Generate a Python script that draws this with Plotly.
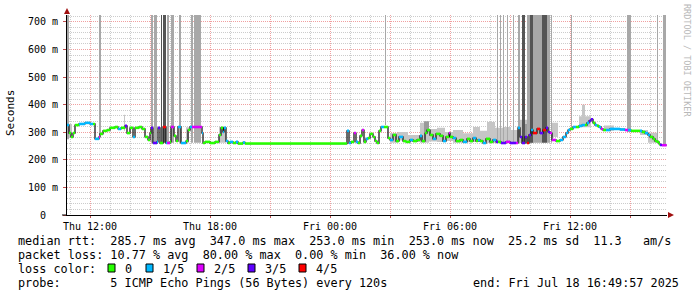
import plotly.graph_objects as go
from datetime import datetime

YEAR = "2025-"
END_TIME = "2025-07-18 16:49:57"
RANGE_START = "2025-07-17 10:51"
RANGE_END = "2025-07-18 16:51"

# ---- median RTT (ms), step points, and lost pings (out of 5) ----
med_time = [
    "07-17 10:51", "07-17 10:57", "07-17 11:03", "07-17 11:09", "07-17 11:15", "07-17 11:27",
    "07-17 11:45", "07-17 12:00", "07-17 12:09", "07-17 12:15", "07-17 12:27", "07-17 12:30",
    "07-17 12:39", "07-17 12:51", "07-17 13:00", "07-17 13:15", "07-17 13:24", "07-17 13:33",
    "07-17 13:45", "07-17 13:51", "07-17 14:00", "07-17 14:09", "07-17 14:15", "07-17 14:27",
    "07-17 14:36", "07-17 14:45", "07-17 14:54", "07-17 15:00", "07-17 15:03", "07-17 15:09",
    "07-17 15:21", "07-17 15:24", "07-17 15:30", "07-17 15:39", "07-17 15:48", "07-17 15:51",
    "07-17 16:00", "07-17 16:03", "07-17 16:12", "07-17 16:18", "07-17 16:24", "07-17 16:33",
    "07-17 16:48", "07-17 16:54", "07-17 17:00", "07-17 17:06", "07-17 17:36", "07-17 17:39",
    "07-17 17:45", "07-17 18:00", "07-17 18:15", "07-17 18:27", "07-17 18:33", "07-17 18:39",
    "07-17 18:42", "07-17 18:48", "07-17 18:54", "07-17 19:00", "07-17 19:09", "07-17 19:18",
    "07-17 19:24", "07-17 19:39", "07-17 19:45",
    "07-18 00:51", "07-18 00:57", "07-18 01:03", "07-18 01:12", "07-18 01:18", "07-18 01:24",
    "07-18 01:30", "07-18 01:36", "07-18 01:42", "07-18 01:48", "07-18 01:54", "07-18 02:00",
    "07-18 02:09", "07-18 02:15", "07-18 02:21", "07-18 02:27", "07-18 02:33", "07-18 02:42",
    "07-18 02:54", "07-18 03:00", "07-18 03:09", "07-18 03:18", "07-18 03:27", "07-18 03:39",
    "07-18 03:48", "07-18 04:00", "07-18 04:09", "07-18 04:21", "07-18 04:30", "07-18 04:36",
    "07-18 04:45", "07-18 04:51", "07-18 05:00", "07-18 05:09", "07-18 05:18", "07-18 05:30",
    "07-18 05:39", "07-18 05:48", "07-18 05:57", "07-18 06:00", "07-18 06:09", "07-18 06:18",
    "07-18 06:30", "07-18 06:39", "07-18 06:51", "07-18 07:00", "07-18 07:09", "07-18 07:18",
    "07-18 07:24", "07-18 07:30", "07-18 07:39", "07-18 07:48", "07-18 08:00", "07-18 08:09",
    "07-18 08:18", "07-18 08:24", "07-18 08:33", "07-18 08:48", "07-18 09:00", "07-18 09:18",
    "07-18 09:24", "07-18 09:30", "07-18 09:36", "07-18 09:45", "07-18 09:51", "07-18 09:57",
    "07-18 10:03", "07-18 10:09", "07-18 10:21", "07-18 10:30", "07-18 10:39", "07-18 10:48",
    "07-18 10:54", "07-18 11:00", "07-18 11:06", "07-18 11:18", "07-18 11:30", "07-18 11:39",
    "07-18 11:48", "07-18 11:54", "07-18 12:00", "07-18 12:09", "07-18 12:18", "07-18 12:27",
    "07-18 12:36", "07-18 12:45", "07-18 12:51", "07-18 12:57", "07-18 13:03", "07-18 13:09",
    "07-18 13:15", "07-18 13:21", "07-18 13:27", "07-18 13:33", "07-18 13:39", "07-18 13:48",
    "07-18 14:00", "07-18 14:15", "07-18 14:30", "07-18 14:45", "07-18 14:54", "07-18 15:03",
    "07-18 15:18", "07-18 15:30", "07-18 15:36", "07-18 15:45", "07-18 15:54", "07-18 16:00",
    "07-18 16:09", "07-18 16:15", "07-18 16:21", "07-18 16:27", "07-18 16:30", "07-18 16:36",
]
med_ms = [
    326, 297, 283, 297, 326, 330,
    334, 330, 330, 276, 283, 294,
    305, 308, 316, 319, 312, 316,
    323, 297, 316, 283, 316, 319,
    312, 283, 272, 297, 316, 261,
    265, 316, 261, 319, 261, 261,
    265, 319, 287, 268, 319, 261,
    268, 308, 319, 319, 297, 261,
    265, 261, 265, 290, 316, 301,
    316, 268, 261, 265, 261, 265,
    259, 263, 259,
    305, 261, 265, 297, 265, 261,
    287, 308, 265, 276, 279, 294,
    283, 268, 261, 305, 319, 319,
    279, 272, 290, 268, 283, 268,
    265, 272, 268, 272, 287, 268,
    297, 308, 290, 276, 294, 287,
    268, 283, 297, 283, 279, 268,
    272, 265, 276, 268, 279, 268,
    272, 268, 261, 276, 265, 272,
    265, 265, 261, 265, 261, 261,
    316, 283, 261, 283, 261, 290,
    308, 297, 312, 297, 308, 316,
    301, 297, 272, 268, 272, 283,
    297, 308, 312, 319, 319, 323,
    326, 326, 334, 341, 347, 334,
    326, 323, 319, 312, 308, 308,
    312, 312, 310, 308, 308, 305,
    305, 305, 301, 297, 290, 283,
    276, 268, 265, 258, 254, 253,
]
med_loss = [
    1, 0, 0, 0, 0, 1,
    1, 1, 0, 1, 2, 0,
    0, 0, 0, 0, 1, 0,
    3, 0, 0, 1, 0, 0,
    0, 0, 0, 0, 3, 3,
    1, 3, 0, 4, 1, 2,
    0, 2, 0, 0, 1, 1,
    0, 0, 1, 2, 1, 0,
    0, 0, 0, 0, 0, 1,
    1, 1, 0, 1, 0, 1,
    0, 1, 0,
    1, 1, 0, 2, 1, 0,
    0, 2, 0, 1, 0, 0,
    0, 0, 0, 0, 1, 0,
    0, 1, 0, 0, 1, 0,
    0, 1, 0, 0, 1, 0,
    0, 0, 0, 1, 0, 0,
    1, 0, 2, 0, 1, 0,
    0, 1, 0, 0, 1, 0,
    1, 0, 1, 0, 0, 1,
    3, 0, 3, 2, 3, 2,
    1, 3, 3, 3, 4, 3,
    1, 4, 4, 3, 4, 3,
    3, 2, 2, 0, 1, 1,
    1, 1, 0, 1, 0, 1,
    1, 0, 1, 3, 3, 0,
    1, 0, 1, 2, 0, 1,
    1, 1, 1, 2, 1, 0,
    0, 1, 0, 1, 1, 0,
    0, 0, 0, 0, 3, 2,
]

LOSS_LABELS = ["0", "1/5", "2/5", "3/5", "4/5"]
LOSS_COLORS = ["#26ff00", "#00b8ff", "#dd00ff", "#5e00ff", "#ff0000"]

# ---- ping spread that went off the scale (max ping > 725 ms) ----
tall_start = ["07-17 10:51", "07-17 12:27", "07-17 15:03", "07-17 15:12", "07-17 15:33", "07-17 15:39",
              "07-17 15:51", "07-17 16:03", "07-17 16:27", "07-17 17:03", "07-17 17:12", "07-18 02:45",
              "07-18 08:21", "07-18 08:30", "07-18 08:39", "07-18 08:51", "07-18 09:09", "07-18 09:24",
              "07-18 09:36", "07-18 09:51", "07-18 10:00", "07-18 10:09", "07-18 10:21", "07-18 10:36",
              "07-18 10:51", "07-18 11:03", "07-18 12:03", "07-18 14:51", "07-18 16:21", "07-18 16:39"]
tall_end = ["07-17 10:57", "07-17 12:33", "07-17 15:09", "07-17 15:21", "07-17 15:36", "07-17 15:48",
            "07-17 15:57", "07-17 16:12", "07-17 16:33", "07-17 17:09", "07-17 17:33", "07-18 02:48",
            "07-18 08:24", "07-18 08:33", "07-18 08:42", "07-18 08:54", "07-18 09:12", "07-18 09:30",
            "07-18 09:45", "07-18 10:00", "07-18 10:09", "07-18 10:21", "07-18 10:36", "07-18 10:51",
            "07-18 11:00", "07-18 11:06", "07-18 12:06", "07-18 15:03", "07-18 16:24", "07-18 16:48"]
tall_lo = [275, 290, 262, 262, 262, 262,
           262, 262, 262, 262, 262, 326,
           262, 262, 262, 262, 262, 262,
           262, 262, 262, 262, 262, 262,
           262, 262, 310, 301, 262, 254]
tall_hi = [1000] * 30
tall_dark = [0, 0, 0, 0, 1, 1,
             0, 0, 0, 0, 0, 0,
             0, 0, 0, 0, 0, 0,
             1, 0, 1, 0, 0, 1,
             0, 0, 0, 0, 0, 0]

# ---- ping spread around the median (smoke) ----
smoke_start = ["07-17 10:51", "07-17 13:42", "07-17 16:48", "07-17 18:27",
               "07-18 03:00", "07-18 03:24", "07-18 03:54", "07-18 04:30", "07-18 04:57", "07-18 05:21",
               "07-18 05:45", "07-18 06:09", "07-18 06:39", "07-18 07:09", "07-18 07:30", "07-18 07:51",
               "07-18 08:15", "07-18 08:42", "07-18 09:03", "07-18 09:24", "07-18 10:12", "07-18 11:06",
               "07-18 12:36", "07-18 12:27", "07-18 13:42", "07-18 15:30", "07-18 15:54",
               "07-18 04:42", "07-18 09:36"]
smoke_end = ["07-17 11:06", "07-17 13:45", "07-17 16:57", "07-17 18:48",
             "07-18 03:24", "07-18 03:54", "07-18 04:30", "07-18 04:57", "07-18 05:21", "07-18 05:45",
             "07-18 06:09", "07-18 06:39", "07-18 07:09", "07-18 07:30", "07-18 07:51", "07-18 08:15",
             "07-18 08:42", "07-18 09:03", "07-18 09:24", "07-18 10:12", "07-18 11:00", "07-18 11:24",
             "07-18 12:45", "07-18 13:03", "07-18 14:12", "07-18 15:54", "07-18 16:24",
             "07-18 04:57", "07-18 10:12"]
smoke_lo = [280, 305, 262, 262,
            262, 270, 265, 262, 266, 265,
            268, 262, 264, 265, 266, 261,
            262, 261, 262, 261, 264, 283,
            330, 318, 305, 290, 262,
            300, 275]
smoke_hi = [330, 363, 318, 320,
            297, 301, 290, 334, 312, 316,
            301, 308, 296, 319, 305, 337,
            316, 319, 308, 345, 330, 334,
            400, 358, 324, 308, 298,
            340, 330]
smoke_dark = [0, 0, 0, 0,
              0, 0, 0, 0, 0, 0,
              0, 0, 0, 0, 0, 0,
              0, 0, 0, 0, 0, 0,
              0, 0, 0, 0, 0,
              1, 1]

Y_TICKS = [0, 100, 200, 300, 400, 500, 600, 700]
Y_TICKTEXT = ["0\u00a0\u00a0", "100 m", "200 m", "300 m", "400 m", "500 m", "600 m", "700 m"]
X_TICKS = ["2025-07-17 12:00", "2025-07-17 15:00", "2025-07-17 18:00", "2025-07-17 21:00",
           "2025-07-18 00:00", "2025-07-18 03:00", "2025-07-18 06:00", "2025-07-18 09:00",
           "2025-07-18 12:00", "2025-07-18 15:00"]
X_TICKTEXT = ["Thu 12:00", "", "Thu 18:00", "", "Fri 00:00", "", "Fri 06:00", "", "Fri 12:00", ""]

legend_lines = [
    "median rtt:  285.7 ms avg  347.0 ms max  253.0 ms min  253.0 ms now  25.2 ms sd  11.3   am/s",
    "packet loss: 10.77 % avg  80.00 % max  0.00 % min  36.00 % now",
    "loss color:",
    "probe:       5 ICMP Echo Pings (56 Bytes) every 120s",
]
END_TEXT = "end: Fri Jul 18 16:49:57 2025"


def ts(s):
    return datetime.strptime(YEAR + s, "%Y-%m-%d %H:%M")


end_dt = datetime.strptime(END_TIME, "%Y-%m-%d %H:%M:%S")

# ---------------- figure ----------------
W, H = 697, 297
L, R, T, B = 67, 30, 15, 82
PW, PH = W - L - R, H - T - B


def px2x(px):
    return (px - L) / PW


def py2y(py):
    return (H - B - py) / PH


MONO = "DejaVu Sans Mono"
fig = go.Figure()


def rect_trace(starts, ends, los, his, color):
    xs, ys = [], []
    for s, e, lo, hi in zip(starts, ends, los, his):
        a, b = ts(s), ts(e)
        xs += [a, a, b, b, a, None]
        ys += [lo, hi, hi, lo, lo, None]
    return go.Scatter(x=xs, y=ys, mode="lines", fill="toself", fillcolor=color,
                      line=dict(width=0, color=color), hoverinfo="skip", showlegend=False)


for dark, col in [(0, "#c6c6c6"), (1, "#9a9a9a")]:
    sel = [i for i in range(len(smoke_start)) if smoke_dark[i] == dark]
    fig.add_trace(rect_trace([smoke_start[i] for i in sel], [smoke_end[i] for i in sel],
                             [smoke_lo[i] for i in sel], [smoke_hi[i] for i in sel], col))
for dark, col in [(0, "#a8a8a8"), (1, "#555555")]:
    sel = [i for i in range(len(tall_start)) if tall_dark[i] == dark]
    fig.add_trace(rect_trace([tall_start[i] for i in sel], [tall_end[i] for i in sel],
                             [tall_lo[i] for i in sel], [tall_hi[i] for i in sel], col))

t = [ts(s) for s in med_time]
t_next = t[1:] + [end_dt]

fig.add_trace(go.Scatter(x=t + [end_dt], y=med_ms + [med_ms[-1]], mode="lines",
                         line=dict(shape="hv", color="#1a1a1a", width=1.3),
                         hoverinfo="skip", showlegend=False))
for lvl in range(5):
    xs, ys = [], []
    for i in range(len(t)):
        if med_loss[i] == lvl:
            xs += [t[i], t_next[i], None]
            ys += [med_ms[i], med_ms[i], None]
    fig.add_trace(go.Scatter(x=xs, y=ys, mode="lines", name=LOSS_LABELS[lvl],
                             line=dict(color=LOSS_COLORS[lvl], width=2.6),
                             hoverinfo="skip", showlegend=False))

fig.update_layout(
    width=W, height=H, margin=dict(l=L, r=R, t=T, b=B),
    paper_bgcolor="white", plot_bgcolor="white",
    font=dict(family=MONO, size=10, color="black"),
    xaxis=dict(type="date", range=[RANGE_START, RANGE_END],
               tickmode="array", tickvals=X_TICKS, ticktext=X_TICKTEXT,
               showgrid=True, gridcolor="#f0a0a0", griddash="1px,1px", gridwidth=1,
               minor=dict(dtick=3600000, tick0="2025-07-17 00:00", showgrid=True,
                          gridcolor="#cccccc", griddash="1px,1px", ticks=""),
               showline=True, linecolor="black", linewidth=1, zeroline=False,
               ticks="outside", ticklen=2, tickcolor="#c05050",
               tickfont=dict(family=MONO, size=10), ticklabelstandoff=0),
    yaxis=dict(range=[0, 725], tickmode="array", tickvals=Y_TICKS, ticktext=Y_TICKTEXT,
               showgrid=True, gridcolor="#f0a0a0", griddash="1px,1px",
               minor=dict(dtick=20, tick0=0, showgrid=True, gridcolor="#cccccc",
                          griddash="1px,1px", ticks=""),
               showline=True, linecolor="black", linewidth=1, zeroline=False,
               ticks="outside", ticklen=3, tickcolor="#c05050",
               tickfont=dict(family=MONO, size=10), ticklabelstandoff=3),
)

shapes = []
# axis arrows
shapes.append(dict(type="path", xref="paper", yref="paper",
                   path=f"M {px2x(64)} {py2y(14)} L {px2x(70)} {py2y(14)} L {px2x(67)} {py2y(8)} Z",
                   fillcolor="#a01010", line=dict(width=0)))
shapes.append(dict(type="path", xref="paper", yref="paper",
                   path=f"M {px2x(668)} {py2y(212)} L {px2x(668)} {py2y(218)} L {px2x(674)} {py2y(215)} Z",
                   fillcolor="#a01010", line=dict(width=0)))
shapes.append(dict(type="line", xref="paper", yref="paper", x0=px2x(62), x1=px2x(67),
                   y0=0, y1=0, line=dict(color="black", width=1)))

annotations = []
for k, line in enumerate(legend_lines):
    annotations.append(dict(xref="paper", yref="paper", x=px2x(16), y=py2y(241 + 14 * k),
                            xanchor="left", yanchor="middle", showarrow=False,
                            text=line.replace(" ", "\u00a0"),
                            font=dict(family=MONO, size=11.8, color="black")))
annotations.append(dict(xref="paper", yref="paper", x=px2x(681), y=py2y(283),
                        xanchor="right", yanchor="middle", showarrow=False,
                        text=END_TEXT.replace(" ", "\u00a0"),
                        font=dict(family=MONO, size=11.8, color="black")))
box_x = [108, 146, 197, 248, 299]
for lvl in range(5):
    bx = box_x[lvl]
    shapes.append(dict(type="rect", xref="paper", yref="paper",
                       x0=px2x(bx), x1=px2x(bx + 7), y0=py2y(272), y1=py2y(264),
                       fillcolor=LOSS_COLORS[lvl], line=dict(color="black", width=1)))
    annotations.append(dict(xref="paper", yref="paper", x=px2x(bx + 15), y=py2y(269),
                            xanchor="left", yanchor="middle", showarrow=False,
                            text=LOSS_LABELS[lvl],
                            font=dict(family=MONO, size=11.8, color="black")))
annotations.append(dict(xref="paper", yref="paper", x=px2x(10), y=py2y(113),
                        xanchor="center", yanchor="middle", showarrow=False, textangle=-90,
                        text="Seconds", font=dict(family=MONO, size=11, color="black")))
annotations.append(dict(xref="paper", yref="paper", x=px2x(687), y=py2y(60),
                        xanchor="center", yanchor="middle", showarrow=False, textangle=90,
                        text="RRDTOOL / TOBI OETIKER".replace(" ", "\u00a0"),
                        font=dict(family=MONO, size=8.5, color="#b8b8b8")))
fig.update_layout(shapes=shapes, annotations=annotations)

fig.write_html("out.html")
